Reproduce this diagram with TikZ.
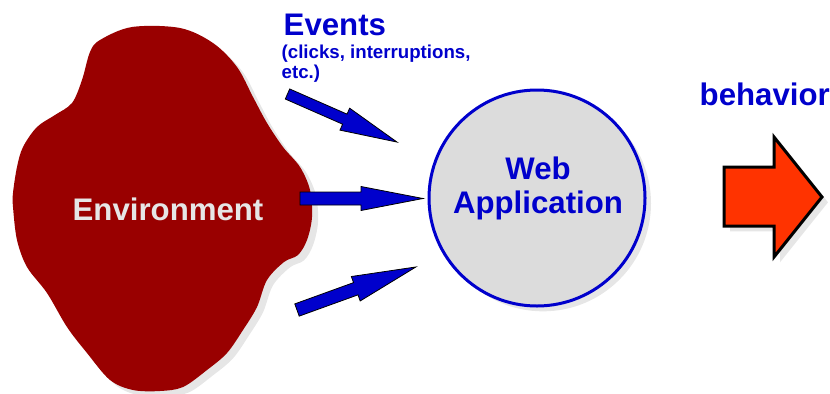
\documentclass[tikz,border=0pt]{standalone}
\usepackage{fontspec}
\setmainfont{Liberation Sans}
\usetikzlibrary{shadows}

\definecolor{envred}{HTML}{990000}
\definecolor{evblue}{HTML}{0000CC}
\definecolor{appgray}{HTML}{DCDCDC}
\definecolor{shadowgray}{HTML}{E6E6E6}
\definecolor{outred}{HTML}{FF3300}

\tikzset{
  greyshadow/.style={drop shadow={shadow xshift=4.5pt,shadow yshift=-4pt,opacity=1,fill=shadowgray}},
  bigtext/.style={font=\fontsize{23.4}{24.8}\selectfont\bfseries},
  evarrowstyle/.style={draw=black,line width=0.6pt,fill=evblue,line join=miter},
  pics/evarrow/.style n args={4}{code={
    \draw[evarrowstyle] (0,-#2) -- ({#1-#4},-#2) -- ({#1-#4},-#3) -- (#1,0)
      -- ({#1-#4},#3) -- ({#1-#4},#2) -- (0,#2) -- cycle ;}},
}

\begin{document}
\begin{tikzpicture}[x=0.75pt,y=-0.75pt]
        \useasboundingbox (0,0) rectangle (830,393) ;
        % environment blob
        \fill[envred,greyshadow] plot[smooth cycle,tension=0.55] coordinates {
          (132,27) (180,28) (213,43) (237,67) (253,97) (267,123) (283,147)
          (300,167) (310,190) (312,217) (307,240) (298,255) (284,262)
          (267,280) (257,307) (243,330) (227,353) (207,370) (183,387)
          (160,391) (133,390) (110,380) (87,353) (67,327) (47,293) (27,267)
          (17,240) (13,207) (13,193) (17,167) (23,147) (37,127) (55,115)
          (72,103) (82,80) (90,52) (100,40) } ;
        \node[bigtext,text=shadowgray,anchor=base] (env) at (168,220) {Environment} ;
        % web application
        \node[circle,draw=evblue,line width=2.25pt,fill=appgray,minimum size=162pt,
          inner sep=0pt,greyshadow] (webapp) at (537,198) {} ;
        \node[bigtext,text=evblue,align=center,anchor=base] (apptext) at (538,213)
          {Web\\Application} ;
        % events
        \node[bigtext,text=evblue,anchor=base west] (events) at (279,35) {Events} ;
        \node[font=\fontsize{14}{14.3}\selectfont\bfseries,text=evblue,align=left,
          anchor=base west] (evlist) at (277,78) {(clicks, interruptions,\\etc.)} ;
        \pic[rotate=-23.7] at (287.5,94) {evarrow={119.6}{5.5}{12}{57}} ;
        \pic at (300,198.5) {evarrow={123}{6.5}{12}{62}} ;
        \pic[rotate=19.9] at (297,310) {evarrow={126.5}{6.5}{13}{64}} ;
        % behavior
        \node[bigtext,text=evblue,anchor=base west] (behavior) at (695,105) {behavior} ;
        \draw[fill=outred,draw=black,line width=2.25pt,line join=miter,greyshadow]
          (724,167) -- (774,167) -- (774,137) -- (822,197) -- (774,257)
          -- (774,226) -- (724,226) -- cycle ;
      \end{tikzpicture}
\end{document}
